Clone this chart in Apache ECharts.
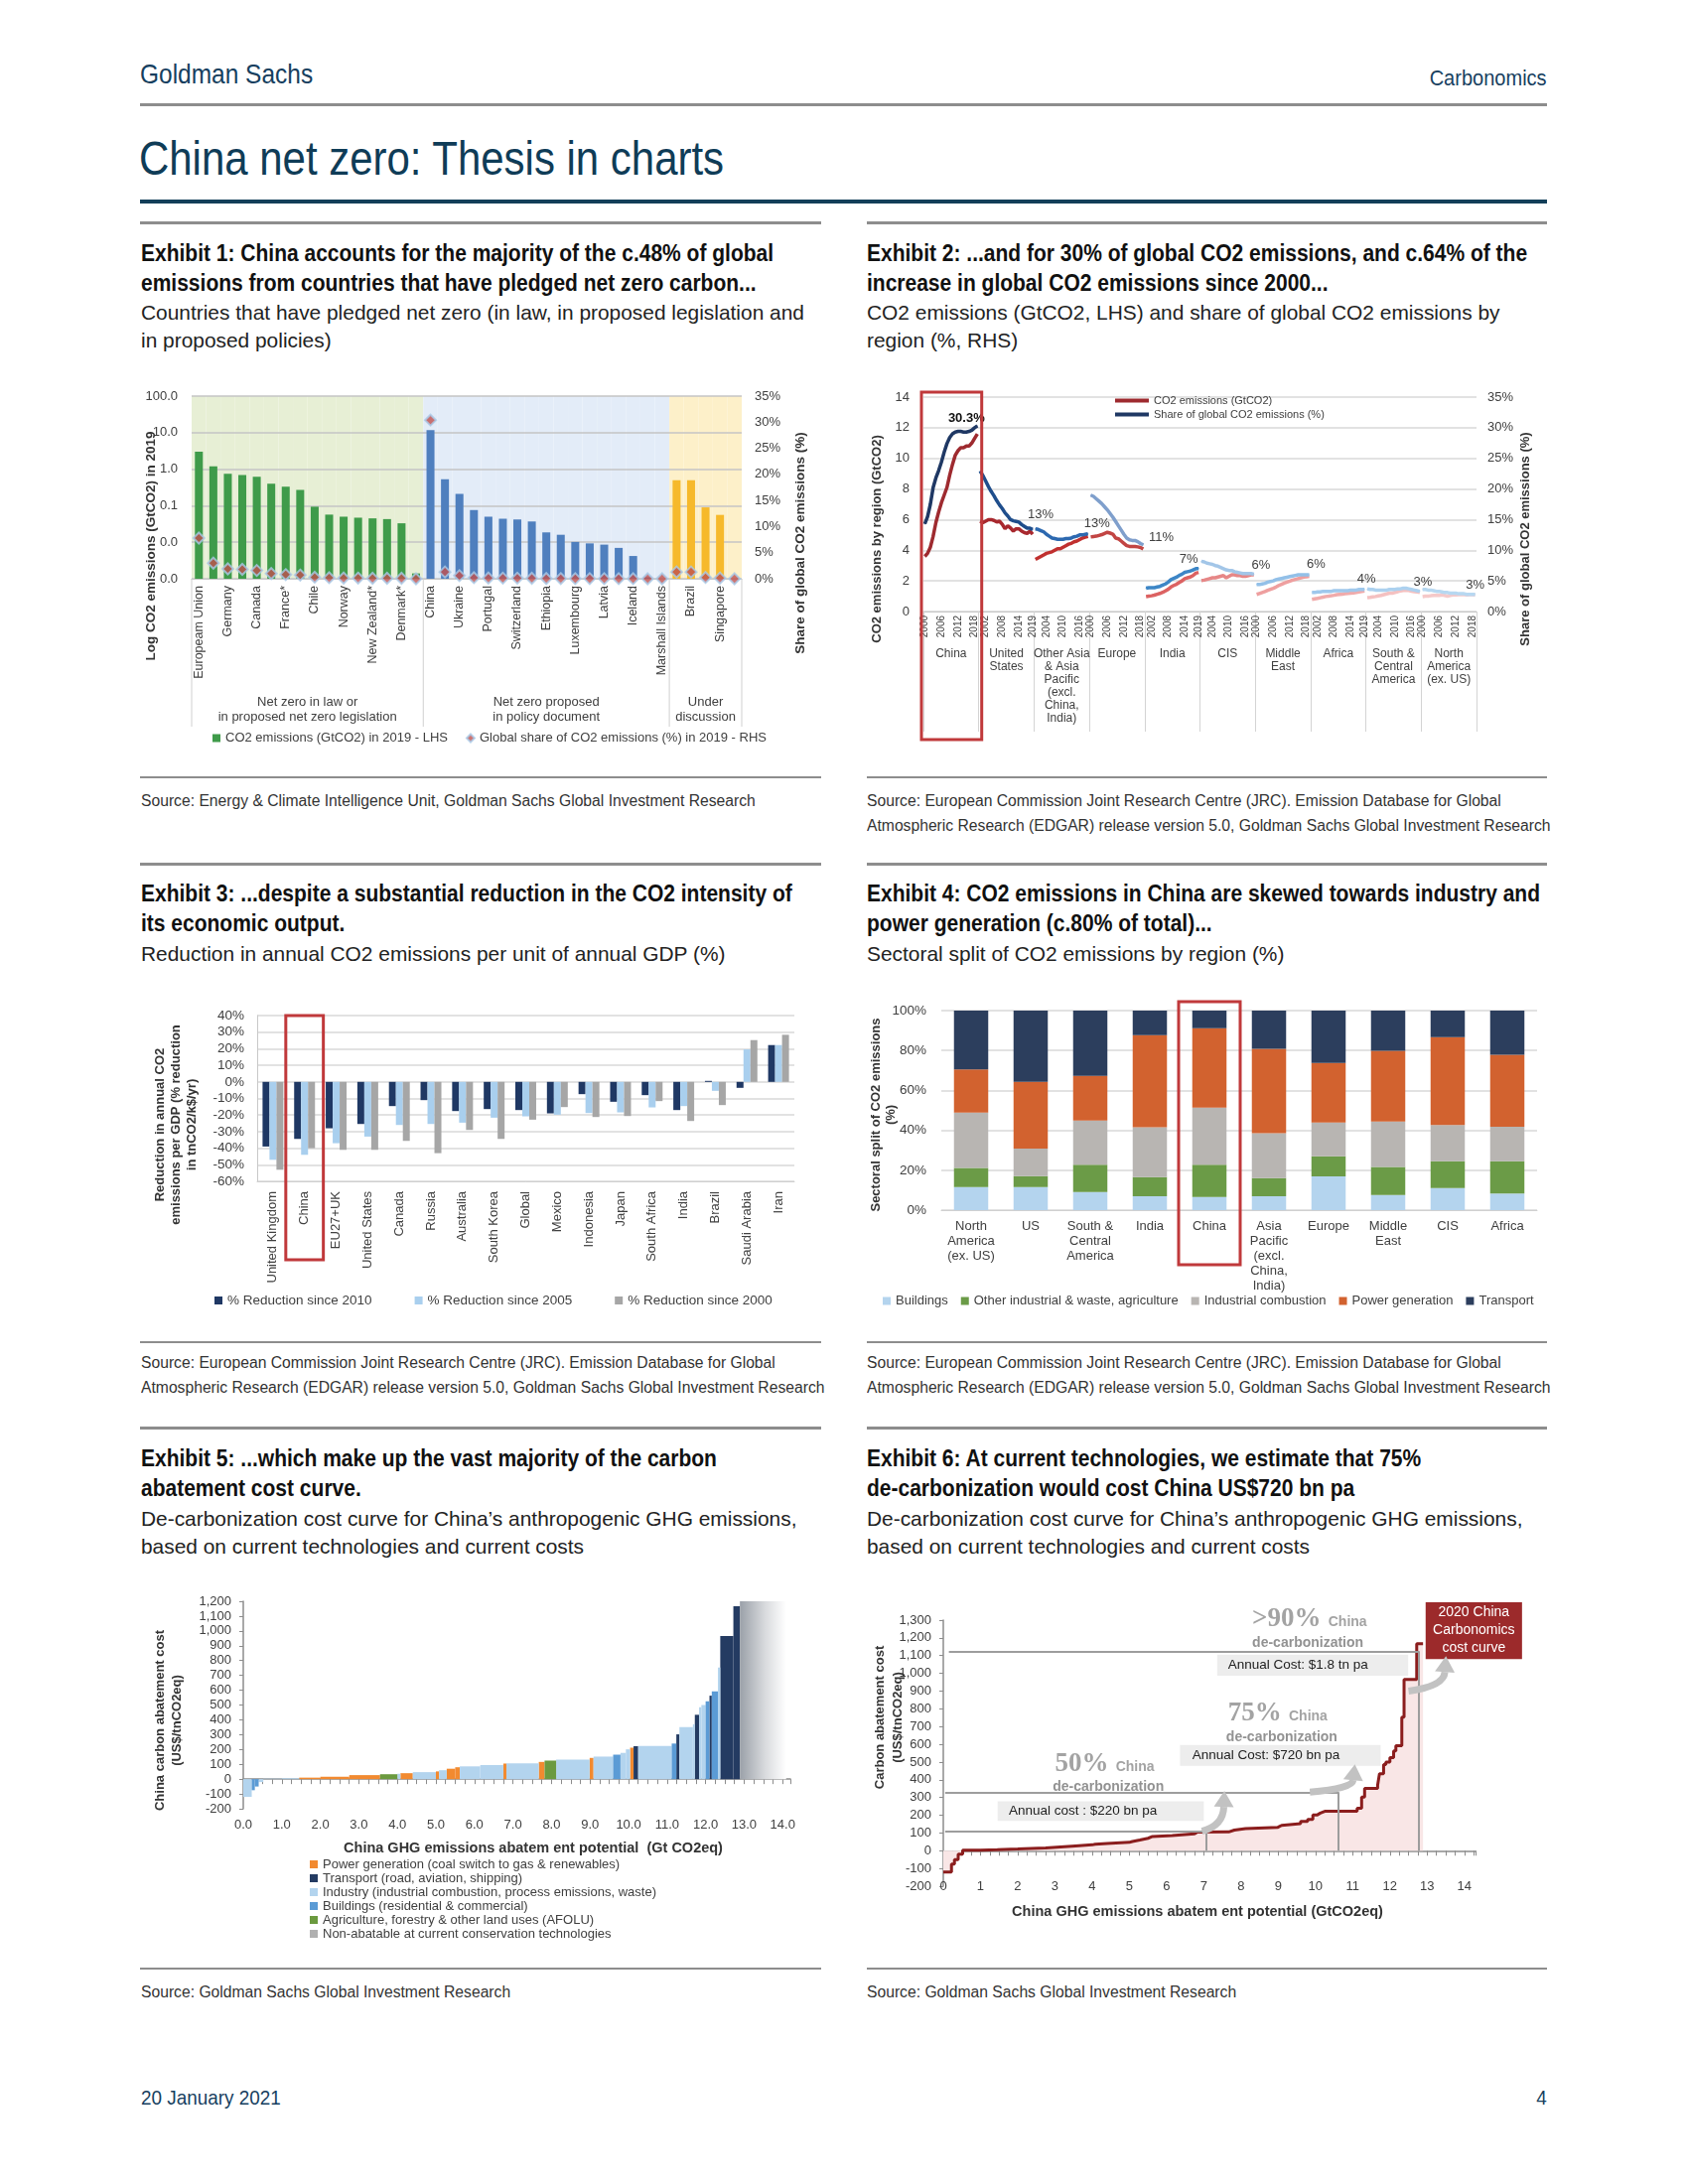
<!DOCTYPE html>
<html>
<head>
<meta charset="utf-8">
<title>China net zero: Thesis in charts</title>
<script src="https://cdn.jsdelivr.net/npm/echarts@6/dist/echarts.min.js"></script>
<style>
html,body{margin:0;padding:0;background:#fff;}
#page{position:relative;width:1700px;height:2200px;overflow:hidden;background:#fff;font-family:"Liberation Sans",Arial,sans-serif;}
.t{position:absolute;white-space:nowrap;transform-origin:0 0;}
.tr{position:absolute;white-space:nowrap;transform-origin:100% 0;}
.r{position:absolute;}
.ch{position:absolute;}
.ttl{font-weight:bold;font-size:23px;line-height:30px;color:#111;transform:scaleX(0.913);}
.sub{font-size:21px;line-height:28px;color:#222;transform:scaleX(0.995);}
.src{font-size:16px;line-height:25px;color:#333;transform:scaleX(0.98);}
</style>
</head>
<body>
<div id="page">
  <div class="t" style="left:141px;top:61px;font-size:28px;line-height:28px;color:#173f5f;transform:scaleX(0.874);">Goldman Sachs</div>
  <div class="tr" style="right:142px;top:68px;font-size:22px;line-height:22px;color:#173f5f;transform:scaleX(0.91);">Carbonomics</div>
  <div class="r" style="left:141px;top:104px;width:1417px;height:3px;background:#8d8d8d;"></div>
  <div class="t" style="left:140px;top:135px;font-size:49px;line-height:49px;color:#0f3c57;transform:scaleX(0.856);">China net zero: Thesis in charts</div>
  <div class="r" style="left:141px;top:201px;width:1417px;height:4px;background:#133f59;"></div>

  <!-- Row 1 -->
  <div class="r" style="left:141px;top:223px;width:686px;height:3px;background:#8d8d8d;"></div>
  <div class="r" style="left:873px;top:223px;width:685px;height:3px;background:#8d8d8d;"></div>
  <div class="t ttl" style="left:142px;top:240px;">Exhibit 1: China accounts for the majority of the c.48% of global<br>emissions from countries that have pledged net zero carbon...</div>
  <div class="t sub" style="left:142px;top:301px;">Countries that have pledged net zero (in law, in proposed legislation and<br>in proposed policies)</div>
  <div class="t ttl" style="left:873px;top:240px;">Exhibit 2: ...and for 30% of global CO2 emissions, and c.64% of the<br>increase in global CO2 emissions since 2000...</div>
  <div class="t sub" style="left:873px;top:301px;">CO2 emissions (GtCO2, LHS) and share of global CO2 emissions by<br>region (%, RHS)</div>
  <div class="ch" id="c1" style="left:141px;top:380px;width:690px;height:380px;"></div>
  <div class="ch" id="c2" style="left:860px;top:385px;width:700px;height:365px;"></div>
  <div class="r" style="left:141px;top:782px;width:686px;height:2px;background:#8d8d8d;"></div>
  <div class="r" style="left:873px;top:782px;width:685px;height:2px;background:#8d8d8d;"></div>
  <div class="t src" style="left:142px;top:794px;">Source: Energy &amp; Climate Intelligence Unit, Goldman Sachs Global Investment Research</div>
  <div class="t src" style="left:873px;top:794px;">Source: European Commission Joint Research Centre (JRC). Emission Database for Global<br>Atmospheric Research (EDGAR) release version 5.0, Goldman Sachs Global Investment Research</div>

  <!-- Row 2 -->
  <div class="r" style="left:141px;top:869px;width:686px;height:3px;background:#8d8d8d;"></div>
  <div class="r" style="left:873px;top:869px;width:685px;height:3px;background:#8d8d8d;"></div>
  <div class="t ttl" style="left:142px;top:885px;">Exhibit 3: ...despite a substantial reduction in the CO2 intensity of<br>its economic output.</div>
  <div class="t sub" style="left:142px;top:947px;">Reduction in annual CO2 emissions per unit of annual GDP (%)</div>
  <div class="t ttl" style="left:873px;top:885px;">Exhibit 4: CO2 emissions in China are skewed towards industry and<br>power generation (c.80% of total)...</div>
  <div class="t sub" style="left:873px;top:947px;">Sectoral split of CO2 emissions by region (%)</div>
  <div class="ch" id="c3" style="left:141px;top:990px;width:690px;height:335px;"></div>
  <div class="ch" id="c4" style="left:860px;top:990px;width:700px;height:335px;"></div>
  <div class="r" style="left:141px;top:1351px;width:686px;height:2px;background:#8d8d8d;"></div>
  <div class="r" style="left:873px;top:1351px;width:685px;height:2px;background:#8d8d8d;"></div>
  <div class="t src" style="left:142px;top:1360px;">Source: European Commission Joint Research Centre (JRC). Emission Database for Global<br>Atmospheric Research (EDGAR) release version 5.0, Goldman Sachs Global Investment Research</div>
  <div class="t src" style="left:873px;top:1360px;">Source: European Commission Joint Research Centre (JRC). Emission Database for Global<br>Atmospheric Research (EDGAR) release version 5.0, Goldman Sachs Global Investment Research</div>

  <!-- Row 3 -->
  <div class="r" style="left:141px;top:1437px;width:686px;height:3px;background:#8d8d8d;"></div>
  <div class="r" style="left:873px;top:1437px;width:685px;height:3px;background:#8d8d8d;"></div>
  <div class="t ttl" style="left:142px;top:1454px;">Exhibit 5: ...which make up the vast majority of the carbon<br>abatement cost curve.</div>
  <div class="t sub" style="left:142px;top:1516px;">De-carbonization cost curve for China’s anthropogenic GHG emissions,<br>based on current technologies and current costs</div>
  <div class="t ttl" style="left:873px;top:1454px;">Exhibit 6: At current technologies, we estimate that 75%<br>de-carbonization would cost China US$720 bn pa</div>
  <div class="t sub" style="left:873px;top:1516px;">De-carbonization cost curve for China’s anthropogenic GHG emissions,<br>based on current technologies and current costs</div>
  <div class="ch" id="c5" style="left:141px;top:1590px;width:690px;height:370px;"></div>
  <div class="ch" id="c6" style="left:860px;top:1590px;width:700px;height:350px;"></div>
  <div class="r" style="left:141px;top:1982px;width:686px;height:2px;background:#8d8d8d;"></div>
  <div class="r" style="left:873px;top:1982px;width:685px;height:2px;background:#8d8d8d;"></div>
  <div class="t src" style="left:142px;top:1994px;">Source: Goldman Sachs Global Investment Research</div>
  <div class="t src" style="left:873px;top:1994px;">Source: Goldman Sachs Global Investment Research</div>

  <div class="t" style="left:142px;top:2102px;font-size:21px;line-height:21px;color:#173f5f;transform:scaleX(0.9);">20 January 2021</div>
  <div class="tr" style="right:142px;top:2102px;font-size:21px;line-height:21px;color:#173f5f;transform:scaleX(0.9);">4</div>
</div>

<script>
// ================= DATA =================
// Exhibit 1
const ex1Countries = ["Europeam Union","Japan","Germany","South Korea","Canada","United Kingdom","France*","Spain","Chile","Hungary","Norway","Sweden","New Zealand*","Ireland","Denmark*","Fiji",
  "China","South Africa","Ukraine","Austria","Portugal","Finland","Switzerland","Slovakia","Ethiopia","Costa Rica","Luxembourg","Slovenia","Latvia","Uruguay","Iceland","Andorra","Marshall Islands",
  "Mexico","Brazil","Colombia","Singapore","Bhutan"];
const ex1Emissions = [3.0,1.2,0.75,0.69,0.62,0.40,0.33,0.27,0.094,0.057,0.050,0.047,0.045,0.043,0.033,0.0014,
  11.7,0.53,0.21,0.076,0.050,0.044,0.042,0.037,0.0186,0.016,0.0102,0.0093,0.0086,0.0070,0.0042,0.0011,0.0010,
  0.50,0.50,0.090,0.056,0.0010];
const ex1Share = [7.8,3.0,1.9,1.8,1.6,1.0,0.8,0.7,0.3,0.2,0.15,0.13,0.1,0.1,0.09,0.0,
  30.4,1.3,0.6,0.2,0.15,0.12,0.12,0.1,0.05,0.04,0.03,0.03,0.02,0.02,0.01,0.0,0.0,
  1.3,1.3,0.25,0.15,0.0];
const ex1GroupNames = ["Net zero in law or\nin proposed net zero legislation","Net zero proposed\nin policy document","Under\ndiscussion"];
const ex1GroupSizes = [16,17,5];
const ex1LeftTicks = [0.001,0.01,0.1,1,10,100];

// Exhibit 2
const ex2Regions = ["China","United\nStates","Other Asia\n& Asia\nPacific\n(excl.\nChina,\nIndia)","Europe","India","CIS","Middle\nEast","Africa","South &\nCentral\nAmerica","North\nAmerica\n(ex. US)"];
const ex2Years = [2000,2001,2002,2003,2004,2005,2006,2007,2008,2009,2010,2011,2012,2013,2014,2015,2016,2017,2018,2019];
const ex2TickYears = [[2000,2006,2012,2018],[2002,2008,2014,2019],[2004,2010,2016],[2000,2006,2012,2018],[2002,2008,2014,2019],[2004,2010,2016],[2000,2006,2012,2018],[2002,2008,2014,2019],[2004,2010,2016],[2000,2006,2012,2018]];
const co2China  = [3.6,3.8,4.2,4.9,5.8,6.5,7.1,7.6,8.1,8.9,9.6,10.2,10.5,10.7,10.7,10.8,10.8,11.0,11.3,11.6];
const co2US     = [5.9,5.8,5.9,6.0,6.0,5.95,5.85,5.9,5.7,5.4,5.6,5.45,5.25,5.4,5.4,5.25,5.15,5.1,5.25,5.05];
const co2OthAsia= [3.4,3.5,3.6,3.7,3.8,3.85,3.9,4.0,4.1,4.1,4.2,4.3,4.4,4.45,4.55,4.6,4.7,4.8,4.85,4.9];
const co2Europe = [4.87,4.9,4.92,4.97,5.02,5.1,5.17,5.12,5.05,4.8,4.75,4.6,4.45,4.3,4.25,4.25,4.25,4.22,4.18,4.08];
const co2India  = [0.97,1.0,1.03,1.07,1.13,1.18,1.25,1.35,1.45,1.6,1.7,1.78,1.9,2.0,2.15,2.2,2.25,2.35,2.5,2.55];
const co2CIS    = [2.03,2.05,2.1,2.15,2.2,2.2,2.25,2.3,2.35,2.2,2.3,2.4,2.4,2.35,2.35,2.3,2.3,2.35,2.4,2.4];
const co2MidEast= [1.12,1.18,1.24,1.3,1.38,1.45,1.52,1.6,1.7,1.78,1.86,1.92,1.98,2.05,2.1,2.15,2.2,2.25,2.27,2.3];
const co2Africa = [0.8,0.83,0.86,0.9,0.94,0.98,1.0,1.03,1.06,1.1,1.12,1.14,1.16,1.18,1.2,1.22,1.25,1.28,1.31,1.34];
const co2SCAm   = [0.9,0.92,0.95,0.98,1.02,1.05,1.1,1.15,1.2,1.2,1.25,1.3,1.35,1.38,1.4,1.38,1.33,1.3,1.28,1.25];
const co2NAm    = [0.97,1.0,1.0,1.03,1.05,1.05,1.05,1.08,1.05,1.0,1.05,1.08,1.08,1.1,1.1,1.1,1.08,1.1,1.1,1.08];
const shareChina  = [14.3,15.5,17.5,20.2,21.8,23.0,24.4,26.0,27.4,28.4,29.0,29.3,29.4,29.4,29.3,29.3,29.4,29.6,30.0,30.3];
const shareUS     = [22.9,22.2,21.3,20.4,19.6,18.9,18.1,17.4,16.8,16.1,15.6,15.0,14.8,14.7,14.6,14.2,13.9,13.6,13.6,13.4];
const shareOthAsia= [13.5,13.4,13.2,13.0,12.6,12.3,12.0,11.9,11.8,11.8,11.8,11.9,11.9,12.0,12.2,12.3,12.5,12.5,12.6,12.7];
const shareEurope = [19.0,18.8,18.4,18.0,17.6,17.1,16.6,16.0,15.4,14.7,14.0,13.3,12.6,12.0,11.7,11.6,11.6,11.4,11.1,10.9];
const shareIndia  = [3.8,3.9,3.9,3.9,4.0,4.1,4.3,4.5,4.8,5.2,5.4,5.6,5.9,6.1,6.4,6.5,6.6,6.8,7.0,7.0];
const shareCIS    = [8.2,8.1,7.9,7.8,7.7,7.5,7.4,7.2,7.0,6.8,6.7,6.7,6.5,6.4,6.3,6.2,6.2,6.2,6.2,6.1];
const shareMidEast= [4.4,4.4,4.5,4.6,4.8,4.9,5.0,5.2,5.3,5.4,5.5,5.6,5.7,5.8,5.9,6.0,6.0,6.0,6.0,6.0];
const shareAfrica = [3.1,3.1,3.2,3.2,3.3,3.3,3.3,3.3,3.4,3.4,3.4,3.4,3.4,3.4,3.5,3.5,3.5,3.6,3.6,3.6];
const shareSCAm   = [3.7,3.6,3.6,3.5,3.5,3.5,3.5,3.5,3.6,3.6,3.6,3.7,3.7,3.8,3.8,3.7,3.6,3.5,3.4,3.3];
const shareNAm    = [3.6,3.6,3.5,3.5,3.4,3.3,3.3,3.2,3.1,3.1,3.0,3.0,3.0,2.9,2.9,2.9,2.8,2.8,2.8,2.8];
const ex2ShareLabels = ["30.3%","13%","13%","11%","7%","6%","6%","4%","3%","3%"];

// Exhibit 3
const ex3Countries = ["United Kingdom","China","EU27+UK","United States","Canada","Russia","Australia","South Korea","Global","Mexico","Indonesia","Japan","South Africa","India","Brazil","Saudi Arabia","Iran"];
const ex3Since2010 = [-39,-34.4,-28,-25.4,-14.6,-11,-17.6,-16.4,-17,-19,-7.4,-12,-8,-17,0.6,-3.6,22.2];
const ex3Since2005 = [-47,-44,-37,-33,-26,-25.4,-24.6,-21.6,-20.8,-19.8,-18.8,-18.4,-15.4,-14.6,-5.4,19.6,22.2];
const ex3Since2000 = [-53,-40,-41,-41,-35.6,-43,-29,-34.4,-22.8,-15.2,-21.2,-20.6,-11.6,-23.6,-14,25.2,28.4];

// Exhibit 4
const ex4Regions = ["North\nAmerica\n(ex. US)","US","South &\nCentral\nAmerica","India","China","Asia\nPacific\n(excl.\nChina,\nIndia)","Europe","Middle\nEast","CIS","Africa"];
const ex4Buildings = [11.6,11.6,9.1,7.0,6.6,7.0,16.9,7.6,11.1,8.3];
const ex4OtherInd  = [9.5,5.5,13.6,9.6,16.1,9.1,10.1,14.0,13.4,16.2];
const ex4IndComb   = [27.8,13.7,22.2,24.9,28.7,22.4,16.9,22.8,18.1,17.3];
const ex4Power     = [21.6,33.5,22.4,46.2,39.8,42.3,29.9,35.4,44.1,36.0];
const ex4Transport = [29.5,35.7,32.7,12.3,8.8,19.2,26.2,20.2,13.3,22.2];

// Exhibit 5 / 6 : abatement segments [start GtCO2eq, end GtCO2eq, cost US$/tCO2eq]
const ex5Power = [[1.45,2.00,10],[2.00,2.75,16],[2.75,3.55,27],[4.08,4.40,40],[5.00,5.08,52],[5.28,5.50,70],[5.50,5.62,80],[6.75,6.83,105],[7.67,7.82,116],[8.99,9.09,143],[10.04,10.13,212]];
const ex5Transport = [[10.13,10.25,222],[11.24,11.32,302],[11.72,11.83,434],[12.10,12.16,563],[12.38,12.72,965],[12.72,12.89,1167]];
const ex5Industry = [[0.00,0.22,-120],[0.40,0.52,-20],[0.52,1.00,3],[1.00,1.45,6],[4.00,4.08,36],[4.40,5.00,47],[5.08,5.28,60],[5.62,6.15,86],[6.15,6.75,95],[6.83,7.67,106],[8.12,8.99,132],[9.09,9.60,152],[9.79,9.93,177],[9.93,10.04,201],[10.25,11.12,223],[11.32,11.67,351],[11.67,11.72,370],[11.83,11.89,485],[11.89,12.00,500],[12.32,12.38,753]];
const ex5Buildings = [[0.22,0.30,-75],[0.30,0.40,-50],[9.60,9.79,165],[11.12,11.24,240],[12.00,12.10,525],[12.16,12.32,592]];
const ex5Afolu = [[3.55,4.00,33],[7.82,8.12,125]];
const ex5NonAbatable = [[12.89,14.09,1200]];
const ex6ThresholdX = [7.06,10.62,12.78];
const ex6ThresholdCost = [112,330,1125];

// ================= HELPERS =================
const FONT = '"Liberation Sans", Arial, Helvetica, sans-serif';
const TXT = '#404040';
function L(o){ return Object.assign({color:TXT, fontFamily:FONT, fontSize:13}, o||{}); }
function T(x, y, text, font, extra, rot){
  return {type:'text', x:x, y:y, rotation:rot||0, silent:true, z:100,
    style:Object.assign({text:text, font:font, fill:'#333', align:'center', verticalAlign:'middle'}, extra||{})};
}
const BOLD13 = 'bold 13px ' + FONT;

// ================= EXHIBIT 1 =================
const c1 = echarts.init(document.getElementById('c1'));
const EX1_BAR = 'CO2 emissions (GtCO2) in 2019 - LHS';
const EX1_SC = 'Global share of CO2 emissions (%) in 2019 - RHS';
const grp1 = ex1Countries.map((_, i) => { let s = 0; for (let g = 0; g < ex1GroupSizes.length; g++) { s += ex1GroupSizes[g]; if (i < s) return g; } return 0; });
const barCols1 = ['#3f9b4a','#4f7fbe','#f6b92b'];
const bandCols1 = ['#e7efd5','#e3ecf8','#fdf0c9'];
const logMin = ex1LeftTicks[0];
const logT = v => Math.log10(Math.max(v, logMin)) - Math.log10(logMin);
c1.setOption({
  animation:false,
  textStyle:{fontFamily:FONT},
  grid:{left:52, right:84, top:19, bottom:177},
  legend:{left:68, top:352, itemGap:18, itemWidth:8, itemHeight:8, textStyle:L({fontSize:13}),
    data:[{name:EX1_BAR, icon:'rect'},{name:EX1_SC, icon:'diamond'}]},
  xAxis:[
    {type:'category', data:ex1Countries, position:'bottom', axisLine:{lineStyle:{color:'#c8c8c8'}}, axisTick:{show:false},
      axisLabel:L({rotate:90, interval:1, fontSize:12.5, margin:7})},
    {type:'category', data:ex1Countries, position:'bottom', show:false}
  ],
  yAxis:[
    {type:'value', min:0, max:logT(ex1LeftTicks[ex1LeftTicks.length-1]), interval:1, axisLine:{show:false}, axisTick:{show:false},
      splitLine:{lineStyle:{color:'#c4c4c4', width:1.5}},
      axisLabel:L({margin:14, formatter:v => ex1LeftTicks[Math.round(v)].toFixed(1)})},
    {type:'value', min:0, max:35, interval:5, position:'right', axisLine:{show:false}, axisTick:{show:false}, splitLine:{show:false},
      axisLabel:L({margin:13, formatter:'{value}%'})},
    {type:'value', min:0, max:1, show:false}
  ],
  series:[
    {type:'bar', xAxisIndex:1, yAxisIndex:2, z:-1, silent:true, barWidth:'100%', barCategoryGap:'0%',
      data:ex1Countries.map((_, i) => ({value:1, itemStyle:{color:bandCols1[grp1[i]]}}))},
    {type:'bar', name:EX1_BAR, xAxisIndex:0, yAxisIndex:0, barWidth:'55%', itemStyle:{color:barCols1[0]},
      data:ex1Emissions.map((v, i) => ({value:logT(v), itemStyle:{color:barCols1[grp1[i]]}}))},
    {type:'scatter', name:EX1_SC, xAxisIndex:0, yAxisIndex:1, symbol:'diamond', symbolSize:11, z:5,
      itemStyle:{color:'#c0504d', borderColor:'#a9cbe8', borderWidth:2}, data:ex1Share}
  ]
});
(function(){
  const cx = i => c1.convertToPixel({xAxisIndex:0}, i);
  const cw = cx(1) - cx(0);
  const yb = c1.convertToPixel({yAxisIndex:0}, 0);
  const bounds = [0]; ex1GroupSizes.reduce((s, n) => { bounds.push(s + n); return s + n; }, 0);
  const g = [];
  bounds.forEach(b => { const x = cx(0) + (b - 0.5) * cw;
    g.push({type:'line', silent:true, z:1, shape:{x1:x, y1:yb, x2:x, y2:yb + 149}, style:{stroke:'#d0d0d0', lineWidth:1}}); });
  ex1GroupNames.forEach((n, k) => { const xm = cx(0) + ((bounds[k] + bounds[k+1]) / 2 - 0.5) * cw;
    g.push(T(xm, yb + 132, n, '13px ' + FONT, {fill:TXT, lineHeight:15})); });
  g.push(T(11, 170, 'Log CO2 emissions (GtCO2) in 2019', 'bold 13.5px ' + FONT, {fill:'#333'}, Math.PI/2));
  g.push(T(665, 167, 'Share of global CO2 emissions (%)', 'bold 13.5px ' + FONT, {fill:'#333'}, Math.PI/2));
  c1.setOption({graphic:g});
})();

// ================= EXHIBIT 2 =================
const c2 = echarts.init(document.getElementById('c2'));
const ex2Co2 = [co2China,co2US,co2OthAsia,co2Europe,co2India,co2CIS,co2MidEast,co2Africa,co2SCAm,co2NAm];
const ex2Share = [shareChina,shareUS,shareOthAsia,shareEurope,shareIndia,shareCIS,shareMidEast,shareAfrica,shareSCAm,shareNAm];
const co2Cols2 = ['#9e2a2f','#a8282e','#c0302f','#c24543','#dc6262','#e68787','#ee9f9f','#f0abab','#f4c1c1','#f5c9c9'];
const shareCols2 = ['#1f3864','#1f4e8c','#2d69b0','#7f9fcc','#3d86c6','#a3c6e8','#93c0e8','#9fc8ec','#acd1ef','#b7d8f1'];
const labelOff2 = [[-11,4],[8,-3],[9,2],[18,5],[-10,3],[7,3],[7,1],[2,2],[3,3],[0,3]];
const NY = ex2Years.length;
const ex2Cats = [];
ex2Regions.forEach((r, ri) => ex2Years.forEach(y => ex2Cats.push(ri + '|' + y)));
const series2 = [];
ex2Co2.forEach((arr, ri) => {
  const d = ex2Cats.map(() => null);
  arr.forEach((v, k) => { d[ri * NY + k] = v; });
  series2.push({type:'line', name:'CO2 emissions (GtCO2)', xAxisIndex:0, yAxisIndex:0, data:d, symbol:'none', connectNulls:false,
    lineStyle:{width:3.5, color:co2Cols2[ri]}, itemStyle:{color:co2Cols2[ri]}, z:3});
});
ex2Share.forEach((arr, ri) => {
  const d = ex2Cats.map(() => null);
  arr.forEach((v, k) => { d[ri * NY + k] = v; });
  const last = ri * NY + arr.length - 1;
  d[last] = {value:arr[arr.length - 1], label:{show:true, formatter:ex2ShareLabels[ri], position:'top', offset:labelOff2[ri],
    fontSize:13, fontFamily:FONT, color:ri === 0 ? '#111' : TXT, fontWeight:ri === 0 ? 'bold' : 'normal'}};
  series2.push({type:'line', name:'Share of global CO2 emissions (%)', xAxisIndex:0, yAxisIndex:1, data:d,
    symbol:'circle', symbolSize:1, showSymbol:true, showAllSymbol:true, connectNulls:false,
    lineStyle:{width:3.5, color:shareCols2[ri]}, itemStyle:{color:shareCols2[ri]}, z:4});
});
c2.setOption({
  animation:false,
  textStyle:{fontFamily:FONT},
  grid:{left:70, right:73, top:15, bottom:134},
  legend:{orient:'vertical', left:258, top:8, itemGap:3, itemWidth:34, itemHeight:4, icon:'rect',
    textStyle:L({fontSize:11}), data:['CO2 emissions (GtCO2)','Share of global CO2 emissions (%)']},
  xAxis:[
    {type:'category', data:ex2Cats, position:'bottom', axisLine:{lineStyle:{color:'#c8c8c8'}}, axisTick:{show:false},
      axisLabel:L({rotate:90, fontSize:10, margin:4,
        interval:(idx, v) => { const p = String(v).split('|'); return ex2TickYears[+p[0]].indexOf(+p[1]) >= 0; },
        formatter:v => String(v).split('|')[1]})},
    {type:'category', data:ex2Regions, position:'bottom', axisLine:{show:false, onZero:false},
      axisTick:{show:true, interval:0, length:121, lineStyle:{color:'#d4d4d4'}},
      axisLabel:L({interval:0, fontSize:12, lineHeight:13, margin:36})}
  ],
  yAxis:[
    {type:'value', min:0, max:14, interval:2, axisLine:{show:false}, axisTick:{show:false},
      splitLine:{lineStyle:{color:'#d9d9d9', width:1.5}}, axisLabel:L({margin:14})},
    {type:'value', min:0, max:35, interval:5, position:'right', axisLine:{show:false}, axisTick:{show:false},
      splitLine:{show:false}, axisLabel:L({margin:11, formatter:'{value}%'})}
  ],
  series:series2
});
(function(){
  const cx = i => c2.convertToPixel({xAxisIndex:0}, i);
  const cw = cx(1) - cx(0);
  const x0 = cx(0) - cw / 2 - 2, x1 = cx(NY - 1) + cw / 2 + 3;
  const yTop = c2.convertToPixel({yAxisIndex:0}, 14) - 5;
  const g = [
    {type:'rect', silent:true, z:100, shape:{x:x0, y:yTop, width:x1 - x0, height:360 - yTop}, style:{fill:'none', stroke:'#c0393b', lineWidth:3}},
    T(23, 158, 'CO2 emissions by region (GtCO2)', BOLD13, {fill:'#333'}, Math.PI/2),
    T(676, 158, 'Share of global CO2 emissions (%)', BOLD13, {fill:'#333'}, Math.PI/2)
  ];
  c2.setOption({graphic:g});
})();

// ================= EXHIBIT 3 =================
const c3 = echarts.init(document.getElementById('c3'));
c3.setOption({
  animation:false,
  textStyle:{fontFamily:FONT},
  grid:{left:118, right:31, top:33, bottom:135},
  legend:{left:70, top:308, itemGap:43, itemWidth:8, itemHeight:8, icon:'rect', textStyle:L({fontSize:13.5})},
  xAxis:{type:'category', data:ex3Countries, axisLine:{onZero:false, lineStyle:{color:'#d0d0d0'}}, axisTick:{show:false},
    axisLabel:L({rotate:90, interval:0, fontSize:13, margin:10})},
  yAxis:{type:'value', min:-60, max:40, interval:10, axisLine:{show:true, lineStyle:{color:'#c8c8c8'}}, axisTick:{show:false},
    splitLine:{lineStyle:{color:'#d9d9d9', width:1.5}}, axisLabel:L({margin:13, fontSize:13.5, formatter:'{value}%'})},
  series:[
    {type:'bar', name:'% Reduction since 2010', data:ex3Since2010, barWidth:7, barGap:'0%', itemStyle:{color:'#1f3864'}},
    {type:'bar', name:'% Reduction since 2005', data:ex3Since2005, barWidth:7, barGap:'0%', itemStyle:{color:'#a9cfee'}},
    {type:'bar', name:'% Reduction since 2000', data:ex3Since2000, barWidth:7, barGap:'0%', itemStyle:{color:'#a6a6a6'}}
  ]
});
(function(){
  const cx = i => c3.convertToPixel({xAxisIndex:0}, i);
  const cw = cx(1) - cx(0);
  const x0 = cx(1) - cw / 2 - 3, x1 = cx(1) + cw / 2 + 3;
  const yTop = c3.convertToPixel({yAxisIndex:0}, 40);
  c3.setOption({graphic:[
    {type:'rect', silent:true, z:100, shape:{x:x0, y:yTop, width:x1 - x0, height:279 - yTop}, style:{fill:'none', stroke:'#c0393b', lineWidth:3}},
    T(36, 143, 'Reduction in annual CO2\nemissions per GDP (% reduction\nin tnCO2/k$/yr)', BOLD13, {fill:'#333', lineHeight:16}, Math.PI/2)
  ]});
})();

// ================= EXHIBIT 4 =================
const c4 = echarts.init(document.getElementById('c4'));
const stk4 = (name, data, color) => ({type:'bar', name:name, stack:'s', data:data, barWidth:34.5, itemStyle:{color:color}});
c4.setOption({
  animation:false,
  textStyle:{fontFamily:FONT},
  grid:{left:88, right:12, top:28, bottom:106},
  legend:{left:24, top:309, itemGap:13, itemWidth:8, itemHeight:8, icon:'rect', textStyle:L({fontSize:13})},
  xAxis:{type:'category', data:ex4Regions, axisLine:{lineStyle:{color:'#d0d0d0'}}, axisTick:{show:false},
    axisLabel:L({interval:0, fontSize:13, lineHeight:15, margin:9})},
  yAxis:{type:'value', min:0, max:100, interval:20, axisLine:{show:false}, axisTick:{show:false},
    splitLine:{lineStyle:{color:'#d9d9d9', width:1.5}}, axisLabel:L({margin:15, fontSize:13.5, formatter:'{value}%'})},
  series:[
    stk4('Buildings', ex4Buildings, '#b4d4ee'),
    stk4('Other industrial & waste, agriculture', ex4OtherInd, '#6b9b47'),
    stk4('Industrial combustion', ex4IndComb, '#b8b5b2'),
    stk4('Power generation', ex4Power, '#d2622f'),
    stk4('Transport', ex4Transport, '#2c3e5d')
  ]
});
(function(){
  const cx = i => c4.convertToPixel({xAxisIndex:0}, i);
  const cw = cx(1) - cx(0);
  const x0 = cx(4) - cw / 2 - 1, x1 = cx(4) + cw / 2 + 1;
  c4.setOption({graphic:[
    {type:'rect', silent:true, z:100, shape:{x:x0, y:19, width:x1 - x0, height:265}, style:{fill:'none', stroke:'#c0393b', lineWidth:3}},
    T(30, 133, 'Sectoral split of CO2 emissions\n(%)', BOLD13, {fill:'#333', lineHeight:15}, Math.PI/2)
  ]});
})();

// ================= EXHIBIT 5 =================
const c5 = echarts.init(document.getElementById('c5'));
const sectors5 = [
  {name:'Power generation (coal switch to gas & renewables)', data:ex5Power, color:'#f28a30'},
  {name:'Transport (road, aviation, shipping)', data:ex5Transport, color:'#243b62'},
  {name:'Industry (industrial combustion, process emissions, waste)', data:ex5Industry, color:'#b3d4ee'},
  {name:'Buildings (residential & commercial)', data:ex5Buildings, color:'#5b9bd5'},
  {name:'Agriculture, forestry & other land uses (AFOLU)', data:ex5Afolu, color:'#6b9a3f'},
  {name:'Non-abatable at current conservation technologies', data:ex5NonAbatable, color:'#b0b0b0', grad:true}
];
const commaFmt = v => Number(v).toLocaleString('en-US');
const series5 = sectors5.map(s => ({
  type:'custom', name:s.name, xAxisIndex:0, yAxisIndex:0, itemStyle:{color:s.color}, data:s.data,
  encode:{x:[0,1], y:2},
  renderItem:(params, api) => {
    const a = api.coord([api.value(0), api.value(2)]);
    const b = api.coord([api.value(1), 0]);
    const style = s.grad ? {fill:{type:'linear', x:0, y:0, x2:1, y2:0, colorStops:[{offset:0, color:'#9aa0a8'},{offset:0.55, color:'#d9dbde'},{offset:1, color:'#ffffff'}]}} : api.style();
    return {type:'rect', shape:{x:a[0], y:Math.min(a[1], b[1]), width:b[0] - a[0], height:Math.abs(b[1] - a[1])}, style:style};
  }
}));
c5.setOption({
  animation:false,
  textStyle:{fontFamily:FONT},
  grid:{left:104, right:35, top:23, bottom:138},
  legend:{orient:'vertical', left:166, top:276, itemGap:0, itemWidth:8, itemHeight:8, icon:'rect',
    textStyle:L({fontSize:13, lineHeight:14}), data:sectors5.map(s => s.name)},
  xAxis:[
    {type:'value', min:0, max:14.2, interval:1, position:'bottom', axisLine:{show:false, onZero:false}, axisTick:{show:false}, splitLine:{show:false},
      axisLabel:L({margin:10, showMaxLabel:false, formatter:v => Math.abs(v - Math.round(v)) < 1e-6 ? v.toFixed(1) : ''})},
    {type:'value', min:0, max:14.2, interval:0.25, position:'bottom', axisLine:{onZero:true, onZeroAxisIndex:0, lineStyle:{color:'#8c8c8c', width:1.5}},
      axisTick:{show:true, length:5, lineStyle:{color:'#8c8c8c'}}, axisLabel:{show:false}, splitLine:{show:false}}
  ],
  yAxis:{type:'value', min:-200, max:1200, interval:100, axisLine:{show:true, lineStyle:{color:'#8c8c8c', width:1.5}},
    axisTick:{show:true, length:4, lineStyle:{color:'#8c8c8c'}}, splitLine:{show:false}, axisLabel:L({margin:12, formatter:commaFmt})},
  series:series5
});
c5.setOption({graphic:[
  T(396, 272, 'China GHG emissions abatem ent potential  (Gt CO2eq)', 'bold 14.5px ' + FONT, {fill:'#333'}),
  T(29, 143, 'China carbon abatement cost\n(US$/tnCO2eq)', BOLD13, {fill:'#333', lineHeight:17}, Math.PI/2)
]});

// ================= EXHIBIT 6 =================
const c6 = echarts.init(document.getElementById('c6'));
const allSegs = [].concat(ex5Power, ex5Transport, ex5Industry, ex5Buildings, ex5Afolu).slice().sort((a, b) => a[0] - b[0]);
const curve6 = [];
allSegs.forEach(s => { curve6.push([s[0], s[2]]); curve6.push([s[1], s[2]]); });
const guideStart = [0.05, 0.05, 0.15];
const guides6 = [];
ex6ThresholdX.forEach((x, i) => {
  guides6.push([{coord:[guideStart[i], ex6ThresholdCost[i]]}, {coord:[x, ex6ThresholdCost[i]]}]);
  guides6.push([{coord:[x, ex6ThresholdCost[i]]}, {coord:[x, 0]}]);
});
c6.setOption({
  animation:false,
  textStyle:{fontFamily:FONT},
  grid:{left:90, right:74, top:42, bottom:40},
  xAxis:[
    {type:'value', min:0, max:14.3, interval:1, position:'bottom', axisLine:{show:false, onZero:false}, axisTick:{show:false}, splitLine:{show:false},
      axisLabel:L({margin:0, verticalAlign:'middle', showMaxLabel:false, formatter:v => Math.abs(v - Math.round(v)) < 1e-6 ? String(v) : ''})},
    {type:'value', min:0, max:14.3, interval:0.25, position:'bottom', axisLine:{onZero:true, onZeroAxisIndex:0, lineStyle:{color:'#8c8c8c', width:1.5}},
      axisTick:{show:true, length:5, lineStyle:{color:'#8c8c8c'}}, axisLabel:{show:false}, splitLine:{show:false}}
  ],
  yAxis:{type:'value', min:-200, max:1300, interval:100, axisLine:{show:true, lineStyle:{color:'#8c8c8c', width:1.5}},
    axisTick:{show:true, length:4, lineStyle:{color:'#8c8c8c'}}, splitLine:{show:false}, axisLabel:L({margin:12, formatter:commaFmt})},
  series:[{
    type:'line', xAxisIndex:0, yAxisIndex:0, data:curve6, symbol:'none',
    lineStyle:{color:'#8b1d1d', width:3}, itemStyle:{color:'#8b1d1d'}, areaStyle:{color:'#f9e6e6', opacity:1},
    markLine:{silent:true, symbol:['none','none'], label:{show:false}, lineStyle:{color:'#9d9d9d', width:2, type:'solid'}, data:guides6}
  }]
});
(function(){
  const px = (x, y) => c6.convertToPixel({xAxisIndex:0, yAxisIndex:0}, [x, y]);
  const g = [];
  const boxes = [[1.46,279,7.0,168,1.76,'Annual cost : $220 bn pa'],[6.36,596,11.75,478,6.69,'Annual Cost: $720 bn pa'],[7.36,1106,12.49,987,7.65,'Annual Cost: $1.8 tn pa']];
  boxes.forEach(b => {
    const a = px(b[0], b[1]), c = px(b[2], b[3]);
    g.push({type:'rect', silent:true, z:50, shape:{x:a[0], y:a[1], width:c[0] - a[0], height:c[1] - a[1]}, style:{fill:'rgba(236,236,236,0.92)'}});
    const t = px(b[4], (b[1] + b[3]) / 2);
    g.push(T(t[0], t[1], b[5], '13.5px ' + FONT, {align:'left', fill:'#222'}));
  });
  const heads = [[3.0,488,'50%',2.94,361],[7.65,773,'75%',7.6,637],[8.3,1304,'>90%',8.3,1168]];
  heads.forEach(h => {
    const p = px(h[0], h[1]);
    g.push(T(p[0], p[1], '{a|' + h[2] + '}  {b|China}', '13px ' + FONT, {align:'left',
      rich:{a:{font:'bold 27px "Liberation Serif", "DejaVu Serif", serif', fill:'#a3a3a3'}, b:{font:'bold 14px ' + FONT, fill:'#a3a3a3', padding:[6,0,0,0]}}}));
    const q = px(h[3], h[4]);
    g.push(T(q[0], q[1], 'de-carbonization', 'bold 14px ' + FONT, {align:'left', fill:'#929292'}));
  });
  const r0 = px(12.96, 1401), r1 = px(15.55, 1080);
  g.push({type:'rect', silent:true, z:60, shape:{x:r0[0], y:r0[1], width:r1[0] - r0[0], height:r1[1] - r0[1]}, style:{fill:'#9c2a2b'}});
  g.push(T((r0[0] + r1[0]) / 2, (r0[1] + r1[1]) / 2, '2020 China\nCarbonomics\ncost curve', '14px ' + FONT, {fill:'#fff', lineHeight:18}));
  const arrows = [[6.95,110,7.55,320],[9.85,330,11.05,470],[12.5,900,13.5,1080]];
  arrows.forEach(ar => {
    const s = px(ar[0], ar[1]), e = px(ar[2], ar[3]);
    const cp = [e[0] - (e[0] - s[0]) * 0.05, s[1] - (s[1] - e[1]) * 0.15];
    let dx = e[0] - cp[0], dy = e[1] - cp[1]; const len = Math.hypot(dx, dy); dx /= len; dy /= len;
    const base = [e[0] - dx * 13, e[1] - dy * 13];
    g.push({type:'bezierCurve', silent:true, z:70, shape:{x1:s[0], y1:s[1], x2:base[0], y2:base[1], cpx1:cp[0], cpy1:cp[1]},
      style:{stroke:'#c2c2c2', lineWidth:7, fill:'none'}});
    g.push({type:'polygon', silent:true, z:70, shape:{points:[[e[0] + dx * 3, e[1] + dy * 3], [base[0] - dy * 10, base[1] + dx * 10], [base[0] + dy * 10, base[1] - dx * 10]]},
      style:{fill:'#c2c2c2'}});
  });
  g.push(T(346, 336, 'China GHG emissions abatem ent potential (GtCO2eq)', 'bold 14.5px ' + FONT, {fill:'#333'}));
  g.push(T(35, 140, 'Carbon abatement cost\n(US$/tnCO2eq)', BOLD13, {fill:'#333', lineHeight:18}, Math.PI/2));
  c6.setOption({graphic:g});
})();
</script>
</body>
</html>
